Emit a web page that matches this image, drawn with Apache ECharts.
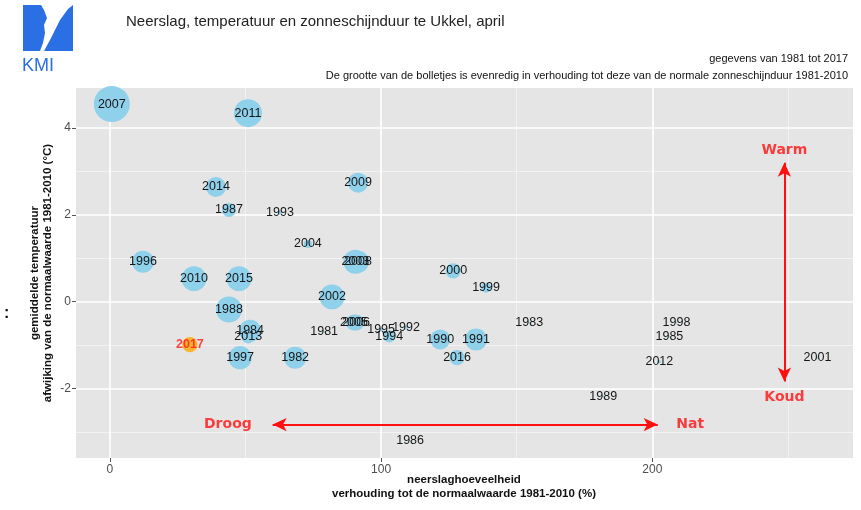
<!DOCTYPE html>
<html>
<head>
<meta charset="utf-8">
<script src="https://cdn.jsdelivr.net/npm/echarts@6/dist/echarts.min.js"></script>
<style>
  html, body { margin: 0; padding: 0; background: #fff; }
  #main { width: 861px; height: 510px; }
</style>
</head>
<body>
<div id="main"></div>
<script>
// jaren, neerslag (% van normaal), temperatuurafwijking (°C), zonneschijnduur (% van normaal)
var years = ['2007','2011','2014','1987','1993','2004','2009','1996','2003','2008','2010','2015',
             '2000','1999','2002','1988','2005','2006','1981','1984','2013','1995','1994','1992',
             '1990','1991','2016','1983','1997','1982','1998','1985','2012','2001','1989','1986'];
var rain = [0.7, 50.9, 39.1, 43.9, 62.7, 73, 91.5, 12.2, 90.5, 91.5, 31, 47.6,
            126.6, 138.7, 81.9, 43.9, 90, 90.8, 79, 51.7, 51, 100, 103, 109.2,
            121.8, 135, 128, 154.6, 48, 68.3, 208.9, 206.3, 202.6, 260.9, 181.9, 110.7];
var temp = [4.55, 4.34, 2.64, 2.11, 2.05, 1.33, 2.74, 0.92, 0.92, 0.92, 0.53, 0.53,
            0.71, 0.32, 0.11, -0.18, -0.48, -0.48, -0.69, -0.67, -0.8, -0.64, -0.8, -0.6,
            -0.87, -0.87, -1.29, -0.48, -1.29, -1.29, -0.48, -0.8, -1.38, -1.29, -2.18, -3.2];
var sun = [160, 140, 120, 105, 80, 90, 120, 125, 130, 125, 132, 132,
           108, 95, 132, 135, 110, 110, 75, 125, 105, 80, 100, 80,
           120, 125, 108, 75, 128, 125, 75, 75, 78, 75, 75, 75];

// huidig jaar
var curYear = '2017';
var curRain = 29.5;
var curTemp = -0.99;
var curSun = 108;

var xMajor = [0, 100, 200];
var xMinor = [50, 150, 250];
var yMajor = [-2, 0, 2, 4];
var yMinor = [-3, -1, 1, 3];

var chart = echarts.init(document.getElementById('main'));

function bubble(s) {
  var d = (s - 70) * 0.4;
  return d < 1 ? 1 : d;
}

var pts = years.map(function (y, i) { return [rain[i], temp[i], sun[i], y]; });

var minorStyle = { color: '#F2F2F2', width: 1, type: 'solid' };
var majorStyle = { color: '#FFFFFF', width: 1.6, type: 'solid' };
var gridLines = [];
xMinor.forEach(function (v) { gridLines.push({ xAxis: v, lineStyle: minorStyle }); });
yMinor.forEach(function (v) { gridLines.push({ yAxis: v, lineStyle: minorStyle }); });
xMajor.forEach(function (v) { gridLines.push({ xAxis: v, lineStyle: majorStyle }); });
yMajor.forEach(function (v) { gridLines.push({ yAxis: v, lineStyle: majorStyle }); });

var redText = {
  show: true, position: 'inside', color: '#FF1010', fontWeight: 'bold',
  fontFamily: 'DejaVu Sans', fontSize: 14, textBorderWidth: 0
};

var option = {
  animation: false,
  backgroundColor: '#ffffff',
  title: [
    { text: 'Neerslag, temperatuur en zonneschijnduur te Ukkel, april', left: 121, top: 9,
      textStyle: { fontFamily: 'Liberation Sans', fontWeight: 'normal', fontSize: 15, color: '#222' } },
    { text: 'gegevens van 1981 tot 2017', right: 8, top: 48,
      textStyle: { fontFamily: 'Liberation Sans', fontWeight: 'normal', fontSize: 11, color: '#111' } },
    { text: 'De grootte van de bolletjes is evenredig in verhouding tot deze van de normale zonneschijnduur 1981-2010',
      right: 8, top: 65,
      textStyle: { fontFamily: 'Liberation Sans', fontWeight: 'normal', fontSize: 11, color: '#111' } }
  ],
  grid: { left: 76, right: 8, top: 88, bottom: 52, show: true, backgroundColor: '#E5E5E5', borderWidth: 0 },
  xAxis: {
    type: 'value', min: -12.5, max: 274,
    axisLine: { show: false, onZero: false },
    splitLine: { show: false },
    axisTick: { show: true, customValues: xMajor, length: 4, lineStyle: { color: '#555' } },
    axisLabel: { customValues: xMajor, color: '#4D4D4D', fontSize: 12, margin: 6, fontFamily: 'Liberation Sans' }
  },
  yAxis: {
    type: 'value', min: -3.6, max: 4.92,
    axisLine: { show: false, onZero: false },
    splitLine: { show: false },
    axisTick: { show: true, customValues: yMajor, length: 4, lineStyle: { color: '#555' } },
    axisLabel: { customValues: yMajor, color: '#4D4D4D', fontSize: 12, margin: 5, fontFamily: 'Liberation Sans' }
  },
  graphic: [
    { type: 'polygon', z: 10,
      shape: { points: [[23, 5], [41, 5], [44, 10], [47, 18], [44, 25], [45, 33], [43, 43], [40, 51], [23, 51]] },
      style: { fill: '#2A6FE3' } },
    { type: 'polygon', z: 10,
      shape: { points: [[73, 5], [73, 51], [44, 51], [50, 40], [55, 30], [60, 20], [68, 9]] },
      style: { fill: '#2A6FE3' } },
    { type: 'text', left: 22, top: 57, z: 10,
      style: { text: 'KMI', fill: '#2A6FE3', font: '18px "Liberation Sans"' } },
    { type: 'text', z: 10, x: 41, y: 273, rotation: Math.PI / 2,
      style: { text: 'gemiddelde temperatuur\nafwijking van de normaalwaarde 1981-2010 (°C)',
        fill: '#111', font: 'bold 11.5px "Liberation Sans"', align: 'center', verticalAlign: 'middle',
        lineHeight: 13 } },
    { type: 'text', z: 10, x: 464, y: 487,
      style: { text: 'neerslaghoeveelheid\nverhouding tot de normaalwaarde 1981-2010 (%)',
        fill: '#111', font: 'bold 11.5px "Liberation Sans"', align: 'center', verticalAlign: 'middle',
        lineHeight: 14 } },
    { type: 'text', x: 4, y: 306, style: { text: ':', fill: '#111', font: 'bold 16px "Liberation Sans"' } }
  ],
  series: [
    {
      name: 'raster', type: 'line', data: [], z: 1, silent: true,
      markLine: { z: 1, silent: true, symbol: 'none', label: { show: false }, data: gridLines, animation: false }
    },
    {
      name: 'jaren', type: 'scatter', z: 3,
      data: pts,
      symbolSize: function (v) { return bubble(v[2]); },
      itemStyle: { color: '#8FD0EA', opacity: 1 },
      label: {
        show: true, position: 'inside', color: '#161616', fontSize: 12.5, fontFamily: 'Liberation Sans',
        textBorderWidth: 0,
        formatter: function (p) { return p.value[3]; }
      }
    },
    {
      name: curYear, type: 'scatter', z: 4,
      data: [[curRain, curTemp, curSun, curYear]],
      symbolSize: function (v) { return bubble(v[2]); },
      itemStyle: { color: '#FFA500' },
      label: {
        show: true, position: 'inside', color: '#FF1A1A', fontSize: 12.5, fontWeight: 'bold',
        fontFamily: 'Liberation Sans', textBorderWidth: 0,
        formatter: function (p) { return p.value[3]; }
      }
    },
    {
      name: 'pijlen', type: 'scatter', z: 5, symbolSize: 0,
      data: [
        { value: [43.5, -2.83], label: { formatter: 'Droog' } },
        { value: [214, -2.83], label: { formatter: 'Nat' } },
        { value: [248.7, 3.49], label: { formatter: 'Warm' } },
        { value: [248.7, -2.2], label: { formatter: 'Koud' } }
      ],
      label: redText,
      markLine: {
        z: 5, silent: true, symbol: ['arrow', 'arrow'], symbolSize: [10, 14],
        label: { show: false },
        lineStyle: { color: '#FF1010', width: 2, type: 'solid' },
        data: [
          [{ coord: [60, -2.83] }, { coord: [202, -2.83] }],
          [{ coord: [248.7, 3.2] }, { coord: [248.7, -1.84] }]
        ]
      }
    }
  ]
};

chart.setOption(option);
window.onresize = chart.resize;
</script>
</body>
</html>
